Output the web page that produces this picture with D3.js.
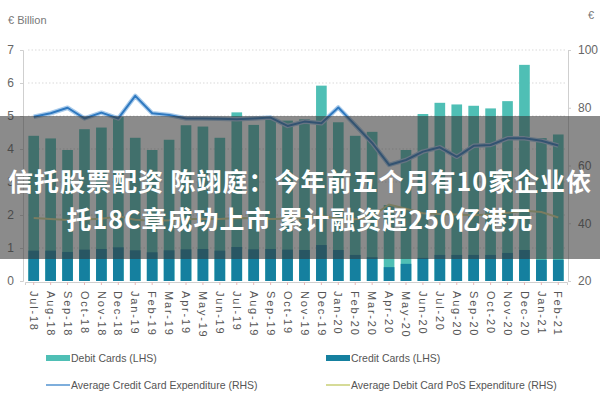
<!DOCTYPE html>
<html lang="zh">
  <head>
    <meta charset="UTF-8">
    <title>Card spending</title>
    <script src="https://d3js.org/d3.v7.min.js"></script>
    <style>
      body { margin: 0; background: #fff; }
      text { font-family: "Liberation Sans", Arial, sans-serif; }
    </style>
  </head>
  <body>
    <script>
      const months = ["Jul-18","Aug-18","Sep-18","Oct-18","Nov-18","Dec-18",
                      "Jan-19","Feb-19","Mar-19","Apr-19","May-19","Jun-19",
                      "Jul-19","Aug-19","Sep-19","Oct-19","Nov-19","Dec-19",
                      "Jan-20","Feb-20","Mar-20","Apr-20","May-20","Jun-20",
                      "Jul-20","Aug-20","Sep-20","Oct-20","Nov-20","Dec-20",
                      "Jan-21","Feb-21"];
      const debitCards = [4.40, 4.32, 3.97, 4.60, 4.65, 4.97, 4.34, 3.97, 4.28, 4.72, 4.68, 4.34,
                          5.11, 4.73, 4.88, 4.86, 4.90, 5.92, 4.81, 4.40, 4.52, 2.30, 3.97, 5.06,
                          5.40, 5.35, 5.31, 5.23, 5.45, 6.55, 4.33, 4.44];
      const creditCards = [0.92, 0.92, 0.88, 0.95, 0.97, 1.02, 0.93, 0.87, 0.93, 0.96, 0.97, 0.92,
                           1.03, 0.96, 0.97, 0.95, 0.94, 1.09, 0.94, 0.79, 0.72, 0.42, 0.52, 0.70,
                           0.79, 0.79, 0.79, 0.79, 0.85, 0.94, 0.64, 0.64];
      const avgCredit = [76.9, 78.1, 80.0, 76.3, 78.3, 76.3, 84.1, 78.1, 77.5, 76.3, 76.3, 76.2,
                         76.0, 76.3, 76.6, 73.7, 75.2, 74.6, 80.1, 74.0, 67.8, 60.2, 61.9, 64.8,
                         66.3, 63.0, 66.8, 67.1, 69.4, 69.4, 68.6, 66.9];
      const avgDebitPos = [41.8, 41.5, 41.1, 41.3, 41.6, 42.4, 41.2, 40.9, 41.0, 41.4, 41.6, 41.5,
                           41.8, 41.7, 41.5, 41.6, 41.8, 42.6, 41.6, 41.4, 42.5, 46.5, 45.0, 43.5,
                           43.2, 43.0, 42.8, 43.0, 43.6, 44.3, 43.9, 42.0];
      const leftTicks = [0, 1, 2, 3, 4, 5, 6, 7];
      const rightTicks = [20, 40, 60, 80, 100];
      const titleLines = ["信托股票配资 陈翊庭：今年前五个月有10家企业依",
                          "托18C章成功上市 累计融资超250亿港元"];

      const w = 600, h = 400;
      const plotLeft = 25, plotRight = 567, plotTop = 50, plotBottom = 281;
      const debitColor = "#4fbfb5", creditColor = "#15809f";
      const blueLine = "#2f79c0", yellowLine = "#d6db98";

      const svg = d3.select("body").append("svg")
        .attr("width", w).attr("height", h);

      const x = d3.scaleBand().domain(months).range([plotLeft, plotRight])
        .paddingInner(0.37).paddingOuter(0.2);
      const yL = d3.scaleLinear().domain([0, 7]).range([plotBottom, plotTop]);
      const yR = d3.scaleLinear().domain([20, 100]).range([plotBottom, plotTop]);

      // dotted grid at left ticks
      svg.append("g").selectAll("line")
        .data(leftTicks.filter(d => d > 0))
        .enter().append("line")
        .attr("x1", plotLeft + 3).attr("x2", plotRight - 2)
        .attr("y1", d => yL(d)).attr("y2", d => yL(d))
        .attr("stroke", "#d9d9d9").attr("stroke-dasharray", "1.5,2");

      // left axis
      const axL = svg.append("g").attr("transform", `translate(${plotLeft - 2},0)`)
        .call(d3.axisLeft(yL).tickValues(leftTicks).tickFormat(d3.format("d"))
          .tickSize(3).tickPadding(6));
      // right axis
      const axR = svg.append("g").attr("transform", `translate(${plotRight + 1},0)`)
        .call(d3.axisRight(yR).tickValues(rightTicks).tickFormat(d3.format("d"))
          .tickSize(3).tickPadding(7));
      [axL, axR].forEach(a => {
        a.select(".domain").attr("stroke", "#cfcfcf");
        a.selectAll(".tick line").attr("stroke", "#cfcfcf");
        a.selectAll("text").attr("fill", "#666").style("font-size", "12px");
      });

      // bars
      svg.append("g").selectAll("rect")
        .data(debitCards).enter().append("rect")
        .attr("x", (d, i) => x(months[i]))
        .attr("width", x.bandwidth())
        .attr("y", d => yL(d))
        .attr("height", d => yL(0) - yL(d))
        .attr("fill", debitColor);
      svg.append("g").selectAll("rect")
        .data(creditCards).enter().append("rect")
        .attr("x", (d, i) => x(months[i]))
        .attr("width", x.bandwidth())
        .attr("y", d => yL(d))
        .attr("height", d => yL(0) - yL(d))
        .attr("fill", creditColor);

      // x axis
      const axB = svg.append("g").attr("transform", `translate(0,${plotBottom + 1})`)
        .call(d3.axisBottom(x).tickSize(3).tickPadding(6));
      axB.select(".domain").attr("stroke", "#cfcfcf");
      axB.selectAll(".tick line").attr("stroke", "#e8b8b8");
      axB.selectAll("text")
        .attr("fill", "#555").style("font-size", "11px").style("letter-spacing", "1.8px")
        .attr("text-anchor", "start")
        .attr("transform", "rotate(90)")
        .attr("x", 9).attr("y", 0).attr("dy", "0.35em");

      // lines
      const lineR = d3.line()
        .x((d, i) => x(months[i]) + x.bandwidth() / 2)
        .y(d => yR(d));
      svg.append("path").datum(avgDebitPos)
        .attr("d", lineR).attr("fill", "none")
        .attr("stroke", yellowLine).attr("stroke-width", 2);
      svg.append("path").datum(avgCredit)
        .attr("d", lineR).attr("fill", "none")
        .attr("stroke", "#a9cbeb").attr("stroke-width", 4.5).attr("stroke-linejoin", "round");
      svg.append("path").datum(avgCredit)
        .attr("d", lineR).attr("fill", "none")
        .attr("stroke", blueLine).attr("stroke-width", 2).attr("stroke-linejoin", "round");

      // unit labels
      svg.append("text").attr("x", 8).attr("y", 24)
        .attr("fill", "#777").style("font-size", "11px").text("€ Billion");
      svg.append("text").attr("x", 588).attr("y", 19)
        .attr("fill", "#777").style("font-size", "11px").text("€");

      // legend
      const legend = [
        {label: "Debit Cards (LHS)", color: debitColor, kind: "bar", x: 46, y: 358},
        {label: "Credit Cards (LHS)", color: creditColor, kind: "bar", x: 326, y: 358},
        {label: "Average Credit Card Expenditure (RHS)", color: "#7eaedc", kind: "line", x: 46, y: 385},
        {label: "Average Debit Card PoS Expenditure (RHS)", color: yellowLine, kind: "line", x: 326, y: 385}
      ];
      const lg = svg.append("g").selectAll("g").data(legend).enter().append("g")
        .attr("transform", d => `translate(${d.x},${d.y})`);
      lg.append("rect")
        .attr("x", 0).attr("width", 24)
        .attr("y", d => d.kind === "bar" ? -3 : -1)
        .attr("height", d => d.kind === "bar" ? 6 : 2)
        .attr("fill", d => d.color);
      lg.append("text").attr("x", 25).attr("dy", "0.35em")
        .attr("fill", "#555").style("font-size", "10.5px").text(d => d.label);

      // overlay band with headline
      svg.append("rect").attr("x", 0).attr("y", 116).attr("width", w).attr("height", 143)
        .attr("fill", "rgba(55,55,55,0.58)");
      svg.append("g").selectAll("text").data(titleLines).enter().append("text")
        .attr("x", 300).attr("y", (d, i) => 182 + i * 38)
        .attr("dy", "0.35em").attr("text-anchor", "middle")
        .attr("fill", "#fff")
        .style("font-family", "'Noto Sans CJK SC', sans-serif")
        .style("font-weight", "700").style("font-size", "25px").style("letter-spacing", "1px")
        .text(d => d);
    </script>
  </body>
</html>
